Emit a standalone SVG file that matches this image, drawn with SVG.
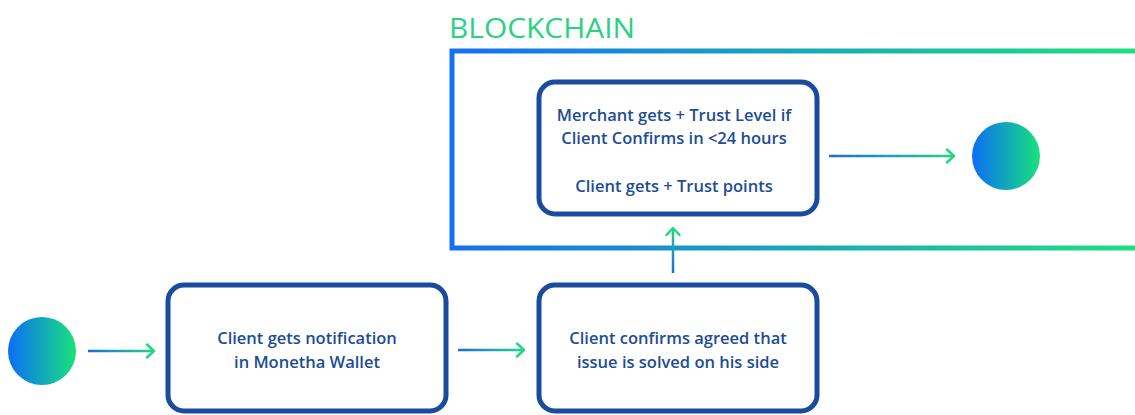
<svg xmlns="http://www.w3.org/2000/svg" width="1135" height="415" viewBox="0 0 1135 415">
<defs>
<linearGradient id="gFrame" gradientUnits="userSpaceOnUse" x1="452" y1="0" x2="1135" y2="0">
<stop offset="0" stop-color="#1570f2"/>
<stop offset="1" stop-color="#1fdf80"/>
</linearGradient>
<linearGradient id="gCircle" x1="0" y1="0" x2="1" y2="0">
<stop offset="0" stop-color="#0b6df6"/>
<stop offset="1" stop-color="#19e27c"/>
</linearGradient>
<linearGradient id="gA1" gradientUnits="userSpaceOnUse" x1="88" y1="0" x2="154" y2="0">
<stop offset="0" stop-color="#1c6ae6"/>
<stop offset="1" stop-color="#22d883"/>
</linearGradient>
<linearGradient id="gA2" gradientUnits="userSpaceOnUse" x1="458" y1="0" x2="524" y2="0">
<stop offset="0" stop-color="#1c6ae6"/>
<stop offset="1" stop-color="#22d883"/>
</linearGradient>
<linearGradient id="gA4" gradientUnits="userSpaceOnUse" x1="829" y1="0" x2="954" y2="0">
<stop offset="0" stop-color="#1c6ae6"/>
<stop offset="1" stop-color="#22d883"/>
</linearGradient>
<linearGradient id="gV" gradientUnits="userSpaceOnUse" x1="0" y1="273" x2="0" y2="227">
<stop offset="0" stop-color="#1c6ae6"/>
<stop offset="1" stop-color="#22d883"/>
</linearGradient>
</defs>
<style>
.box{fill:#fff;stroke:#1a4c9e;stroke-width:5}
.lbl{font-family:"Open Sans","Liberation Sans",sans-serif;font-size:16.5px;font-weight:600;fill:#1d4c98;text-anchor:middle}
.conn{fill:none;stroke-width:2.5}
.head{fill:none;stroke:#22d883;stroke-width:2.5;stroke-linecap:round;stroke-linejoin:round}
</style>
<g id="blockchain">
<text x="449" y="38" font-family="'Open Sans','Liberation Sans',sans-serif" font-size="28" font-weight="500" fill="#2ad27f" textLength="186" lengthAdjust="spacingAndGlyphs">BLOCKCHAIN</text>
<rect x="452" y="51" width="720" height="197" fill="none" stroke="url(#gFrame)" stroke-width="5"/>
</g>
<g id="start">
<circle cx="42" cy="351" r="34" fill="url(#gCircle)"/>
</g>
<g id="end">
<circle cx="1006" cy="156" r="34" fill="url(#gCircle)"/>
</g>
<g id="notify">
<rect class="box" x="168" y="285" width="278" height="126" rx="16"/>
<text class="lbl" x="307" y="344">Client gets notification</text>
<text class="lbl" x="307" y="368">in Monetha Wallet</text>
</g>
<g id="confirm">
<rect class="box" x="539" y="285" width="278" height="126" rx="16"/>
<text class="lbl" x="678" y="344">Client confirms agreed that</text>
<text class="lbl" x="678" y="368">issue is solved on his side</text>
</g>
<g id="trust">
<rect class="box" x="539" y="82" width="278" height="132" rx="16"/>
<text class="lbl" x="674" y="121">Merchant gets + Trust Level if</text>
<text class="lbl" x="674" y="144">Client Confirms in &lt;24 hours</text>
<text class="lbl" x="674" y="192">Client gets + Trust points</text>
</g>
<g id="connectors">
<line class="conn" x1="88" y1="351" x2="154" y2="351" stroke="url(#gA1)"/>
<polyline class="head" points="147,344.5 154,351 147,357.5"/>
<line class="conn" x1="458" y1="350" x2="524" y2="350" stroke="url(#gA2)"/>
<polyline class="head" points="517,343.5 524,350 517,356.5"/>
<line class="conn" x1="673" y1="273" x2="673" y2="228" stroke="url(#gV)"/>
<polyline class="head" points="666.5,235 673,228 679.5,235"/>
<line class="conn" x1="829" y1="156" x2="954" y2="156" stroke="url(#gA4)"/>
<polyline class="head" points="947,149.5 954,156 947,162.5"/>
</g>
</svg>
